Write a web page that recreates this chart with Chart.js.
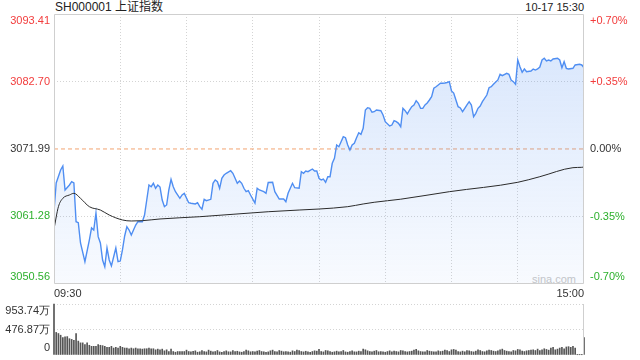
<!DOCTYPE html>
<html>
<head>
<meta charset="utf-8">
<script src="https://cdn.jsdelivr.net/npm/chart.js@4/dist/chart.umd.min.js"></script>
<style>
  body { margin: 0; width: 640px; height: 360px; background: #fff; position: relative; overflow: hidden;
         font-family: "Liberation Sans", Arial, "Noto Sans CJK SC", sans-serif; }
  canvas { position: absolute; left: 0; }
  #main { top: 0; }
  #vol { top: 295px; }
  .t { position: absolute; font-size: 12px; line-height: 14px; color: #222; white-space: nowrap; }
</style>
</head>
<body>
<div class="t" style="left:55px;top:0">SH000001 上证指数</div>
<div class="t" style="right:56px;top:0;font-size:11px">10-17 15:30</div>
<div class="t" style="left:532px;top:272px;font-size:11px;color:#c8c8c8">sina.com</div>
<canvas id="main" width="640" height="300" style="width:640px;height:300px"></canvas>
<canvas id="vol" width="640" height="65" style="width:640px;height:65px"></canvas>
<script>
// minutes since 09:30 (lunch break removed, 0..240)
var prevClose = 3071.99;
var priceTicks = [3050.56, 3061.28, 3071.99, 3082.70, 3093.41];
var pctTicks = [-0.70, -0.35, 0, 0.35, 0.70];
var timeTicks = [0, 30, 60, 90, 120, 150, 180, 210, 240];
var timeLabels = ['09:30', '', '', '', '', '', '', '', '15:00'];
var volTicks = [0, 476.87, 953.74];

var priceTime = [0,1,3,4,5,7,8,9,10,11,12,14,16,17,18,19,20,21,22,23,24,25,26,28,29,30,31,32,33,34,35,37,38,40,41,42,43,44,45,46,47,48,49,50,
  51,52,53,54,55,57,58,59,61,62,64,65,66,67,68,69,71,72,73,74,75,76,77,78,80,81,82,83,84,85,86,87,88,89,91,92,93,95,96,97,99,100,
  102,104,105,106,108,109,111,112,113,114,115,117,118,119,120,121,122,123,124,125,126,127,128,129,130,131,132,133,134,135,136,137,138,139,140,
  141,142,143,144,145,146,148,149,150,152,153,154,155,156,157,158,159,160,161,162,163,164,165,166,167,168,169,170,171,172,173,174,175,176,177,178,179,
  180,181,182,183,184,185,186,187,188,189,190,191,192,193,194,196,197,198,199,201,202,203,205,206,207,208,209,210,211,212,213,214,216,217,218,219,
  220,221,222,223,224,225,226,228,229,230,231,232,233,235,236,238,239,240];
var priceVal = [3062.10,3066.59,3068.65,3069.29,3065.48,3066.27,3066.80,3066.59,3060.45,3060.29,3057.07,3054.10,3057.54,3059.45,3059.13,3061.83,
  3058.07,3057.07,3054.37,3053.31,3056.27,3054.37,3053.42,3056.27,3054.10,3054.20,3055.96,3058.18,3059.65,3059.13,3058.34,3059.92,3060.45,3060.45,
  3061.51,3063.89,3066.27,3066.00,3066.54,3065.75,3066.27,3065.95,3063.89,3062.83,
  3063.10,3065.48,3067.18,3066.00,3065.21,3064.16,3064.69,3064.95,3063.46,3063.37,3063.26,3063.46,3062.83,3062.42,3064.00,3063.78,3064.00,3066.54,
  3067.07,3066.80,3065.75,3067.34,3067.86,3068.13,3068.54,3068.13,3067.34,3066.54,3066.91,3066.54,3065.75,3065.21,3065.37,3064.69,3063.41,3065.75,
  3065.48,3065.21,3064.95,3066.67,3066.70,3065.21,
  3064.05,3064.05,3063.62,3064.95,3066.54,3065.84,3065.75,3068.38,3068.13,3068.49,3068.38,3068.81,3068.49,3068.49,3067.34,3067.07,3067.22,3066.70,
  3067.59,3067.59,3069.72,3070.51,3072.62,3072.35,3073.14,3073.94,3073.78,3072.62,3071.83,3072.62,3072.89,3073.78,3074.57,3074.32,3075.27,
  3078.17,3078.54,3078.44,3077.81,3077.90,3078.17,3078.06,3077.38,3076.32,3075.64,3075.79,3076.48,3076.32,3076.06,3075.52,3078.44,3078.06,3077.54,
  3078.17,3078.70,3078.97,3079.65,3079.24,3078.44,3078.44,3078.97,3079.29,3079.76,3080.29,3081.62,3081.87,3082.14,3082.41,3082.41,3082.46,3082.54,3082.67,
  3081.19,3080.87,3079.76,3078.70,3078.49,3077.90,3078.44,3078.97,3079.49,3078.97,3077.11,3077.65,3078.44,3078.81,3079.49,3080.55,3081.71,3081.87,
  3082.25,3082.94,3083.84,3083.62,3084.00,3083.84,3082.94,3082.67,3082.25,3086.11,3085.05,3084.16,3084.68,3084.25,3084.36,3084.68,3084.52,3084.68,
  3085.00,3086.11,3086.38,3085.95,3086.11,3085.95,3086.27,3086.38,3086.11,3084.89,3085.84,3084.79,3084.68,3084.79,3085.32,3085.43,3085.32,3084.89];

var avgTime = [0, 2, 4, 7, 9, 12, 16, 21, 25, 31, 35, 40, 48, 66, 97, 111, 120, 133, 140, 145, 157, 179, 210, 220, 235, 239, 240];
var avgVal = [3059.29, 3062.83, 3064.16, 3064.69, 3064.95, 3064.16, 3062.83, 3062.30, 3061.51, 3060.72, 3060.56, 3060.61, 3060.88,
  3061.24, 3062.03, 3062.30, 3062.46, 3062.83, 3063.26, 3063.53, 3064.02, 3065.21, 3066.70, 3067.59, 3069.02, 3069.08, 3069.13];

// volume per minute, 万股
var volume = [
  954, 422, 402, 370, 325, 338, 344, 305, 292, 273, 402, 260, 227, 227, 195, 227, 182, 162, 162, 162,
  195, 182, 175, 162, 143, 143, 162, 130, 143, 130, 162, 143, 130, 130, 117, 130, 117, 130, 117, 117,
  110, 117, 117, 130, 117, 117, 97, 110, 97, 110, 78, 97, 65, 110, 65, 52, 65, 65, 65, 65,
  91, 65, 58, 70, 78, 52, 60, 84, 65, 58, 91, 72, 60, 65, 84, 58, 52, 65, 78, 60,
  58, 84, 65, 70, 58, 52, 65, 91, 78, 60, 65, 58, 72, 84, 65, 60, 52, 58, 78, 91,
  65, 58, 84, 72, 60, 65, 58, 52, 78, 65, 91, 84, 65, 58, 70, 60, 52, 65, 78, 72,
  104, 65, 58, 84, 78, 65, 52, 60, 72, 58, 65, 84, 58, 52, 65, 78, 60, 58, 72, 65,
  110, 97, 78, 65, 58, 72, 84, 60, 65, 58, 52, 65, 78, 60, 72, 65, 58, 84, 78, 65,
  58, 65, 72, 91, 104, 78, 65, 60, 58, 84, 72, 65, 58, 60, 78, 65, 72, 91, 84, 65,
  97, 104, 91, 65, 58, 72, 60, 84, 78, 65, 58, 72, 97, 84, 65, 60, 78, 91, 84, 72,
  65, 78, 97, 110, 84, 72, 65, 60, 84, 78, 104, 97, 72, 65, 78, 84, 91, 97, 84, 110,
  84, 97, 117, 104, 91, 130, 143, 97, 110, 130, 143, 117, 150, 156, 143, 162, 130, 5, 5, 5,
  325];

var RED = '#f23c3c', GREEN = '#2db02d', DARK = '#333';
var GRID = '#d4d4d4', FRAME = '#cfcfcf';
var tickFont = { family: '"Liberation Sans", Arial, sans-serif', size: 11 };

function pairs(xs, ys) { return xs.map(function(x, i) { return { x: x, y: ys[i] }; }); }
// edge labels sit inside the panel: pad them with an empty line
function edgeLabel(text, index, count) {
  if (index === 0) return [text, ''];
  if (index === count - 1) return ['', text];
  return text;
}
function lvlColor(v) { return v > 1e-9 ? RED : (v < -1e-9 ? GREEN : DARK); }
// axis boxes have fixed sizes, no extra label padding
function fixBox(w, h) {
  return function(s) {
    if (w) s.width = w;
    if (h) s.height = h;
    s.paddingTop = 0; s.paddingBottom = 0; s.paddingLeft = 0; s.paddingRight = 0;
  };
}

var framePlugin = {
  id: 'frame',
  afterDatasetsDraw: function(chart, args, opts) {
    var a = chart.chartArea, ctx = chart.ctx;
    ctx.save();
    ctx.strokeStyle = FRAME; ctx.lineWidth = 1;
    ctx.beginPath();
    if (opts.rightOnly) {
      ctx.moveTo(a.right - 0.5, a.top); ctx.lineTo(a.right - 0.5, a.bottom);
    } else {
      ctx.rect(a.left + 0.5, a.top + 0.5, a.right - a.left - 1, a.bottom - a.top - 1);
    }
    ctx.stroke();
    ctx.restore();
  }
};

Chart.defaults.animation = false;
Chart.defaults.devicePixelRatio = 1;

new Chart(document.getElementById('main'), {
  type: 'line',
  data: {
    datasets: [
      { label: 'base', data: [{ x: 0, y: prevClose }, { x: 240, y: prevClose }], borderColor: '#f2a470', borderWidth: 1,
        borderDash: [4, 3], pointRadius: 0, fill: false, order: 3 },
      { label: 'price', data: pairs(priceTime, priceVal), borderColor: '#4f8ef2', borderWidth: 1.4, pointRadius: 0, tension: 0,
        fill: 'start', order: 2,
        backgroundColor: function(c) {
          var ca = c.chart.chartArea;
          if (!ca) return 'rgba(79,142,242,0.12)';
          var g = c.chart.ctx.createLinearGradient(0, ca.top, 0, ca.bottom);
          g.addColorStop(0, 'rgba(79,142,242,0.24)');
          g.addColorStop(1, 'rgba(79,142,242,0.04)');
          return g;
        } },
      { label: 'avg', data: pairs(avgTime, avgVal), borderColor: '#2b2b2b', borderWidth: 1, pointRadius: 0,
        cubicInterpolationMode: 'monotone', fill: false, order: 1 }
    ]
  },
  options: {
    responsive: false,
    layout: { padding: { top: 14, left: 0, right: 0, bottom: 0 } },
    plugins: { legend: { display: false }, tooltip: { enabled: false }, frame: {} },
    scales: {
      x: {
        type: 'linear', min: 0, max: 240,
        afterBuildTicks: function(s) { s.ticks = timeTicks.map(function(v) { return { value: v }; }); },
        afterFit: fixBox(0, 16),
        ticks: { autoSkip: false, maxRotation: 0, align: 'inner', padding: 3, color: DARK, font: tickFont,
          callback: function(v, i) { return timeLabels[i]; } },
        grid: { drawTicks: false, color: function(c) { return (c.index === 0 || c.index === timeTicks.length - 1) ? 'rgba(0,0,0,0)' : GRID; } },
        border: { display: false, dash: [1, 2] }
      },
      y: {
        position: 'left', min: priceTicks[0], max: priceTicks[priceTicks.length - 1],
        afterBuildTicks: function(s) { s.ticks = priceTicks.map(function(v) { return { value: v }; }); },
        afterFit: fixBox(54, 0),
        ticks: { autoSkip: false, padding: 4, font: tickFont,
          color: function(c) { return lvlColor(c.tick.value - prevClose); },
          callback: function(v, i) { return edgeLabel(v.toFixed(2), i, priceTicks.length); } },
        grid: { drawTicks: false, color: function(c) {
          var v = c.tick ? c.tick.value : 0;
          return (c.index === 0 || c.index === priceTicks.length - 1 || Math.abs(v - prevClose) < 1e-6) ? 'rgba(0,0,0,0)' : GRID; } },
        border: { display: false, dash: [1, 2] }
      },
      yr: {
        position: 'right', min: pctTicks[0], max: pctTicks[pctTicks.length - 1],
        afterBuildTicks: function(s) { s.ticks = pctTicks.map(function(v) { return { value: v }; }); },
        afterFit: fixBox(56, 0),
        ticks: { autoSkip: false, padding: 6, font: tickFont,
          color: function(c) { return lvlColor(c.tick.value); },
          callback: function(v, i) { return edgeLabel((v > 0 ? '+' : '') + v.toFixed(2) + '%', i, pctTicks.length); } },
        grid: { display: false, drawTicks: false },
        border: { display: false }
      }
    }
  },
  plugins: [framePlugin]
});

new Chart(document.getElementById('vol'), {
  type: 'bar',
  data: {
    datasets: [
      { label: 'volume', data: volume.map(function(v, i) { return { x: i, y: v }; }), backgroundColor: '#555',
        barThickness: 1, clip: false }
    ]
  },
  options: {
    responsive: false,
    layout: { padding: { top: 9, left: 0, right: 56, bottom: 5 } },
    plugins: { legend: { display: false }, tooltip: { enabled: false }, frame: { rightOnly: true } },
    scales: {
      x: { type: 'linear', min: 0, max: 240, offset: false, display: false, grid: { offset: false } },
      y: {
        min: 0, max: volTicks[volTicks.length - 1],
        afterBuildTicks: function(s) { s.ticks = volTicks.map(function(v) { return { value: v }; }); },
        afterFit: fixBox(54, 0),
        ticks: { autoSkip: false, padding: 4, font: tickFont, color: DARK,
          callback: function(v, i) { return edgeLabel(v === 0 ? '0' : v.toFixed(2) + '万', i, volTicks.length); } },
        grid: { drawTicks: false, color: function(c) { return c.index === 0 ? 'rgba(0,0,0,0)' : GRID; } },
        border: { display: false, dash: [1, 2] }
      }
    }
  },
  plugins: [framePlugin]
});
</script>
</body>
</html>
